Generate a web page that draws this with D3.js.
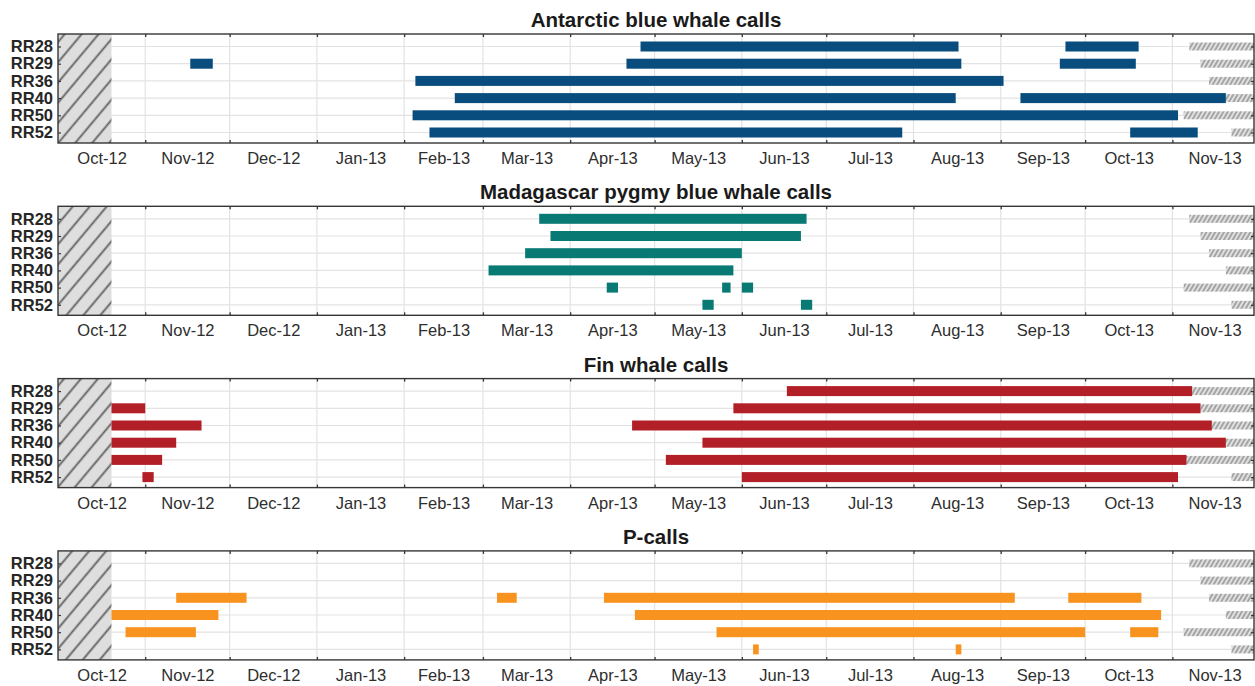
<!DOCTYPE html>
<html>
<head>
<meta charset="utf-8">
<script src="https://cdn.jsdelivr.net/npm/d3@7"></script>
<style>
body { margin: 0; background: #fff; }
svg { font-family: "Liberation Sans", Arial, sans-serif; }
</style>
</head>
<body>
<svg id="chart" width="1255" height="686"></svg>
<script>
var stations = ["RR28", "RR29", "RR36", "RR40", "RR50", "RR52"];
var panelTitles = ["Antarctic blue whale calls", "Madagascar pygmy blue whale calls", "Fin whale calls", "P-calls"];
var panelColors = ["#084d7e", "#087a73", "#b21f27", "#f7931e"];

// recording coverage: common start, end per station (hatched = no data)
var recStart = "2012-10-20";
var recEnd = ["2013-11-07", "2013-11-11", "2013-11-14", "2013-11-20", "2013-11-05", "2013-11-22"];

// detection periods [station, start, end]
var antarcticBlue = [
	["RR28", "2013-04-26", "2013-08-17"], ["RR28", "2013-09-24", "2013-10-20"],
	["RR29", "2012-11-17", "2012-11-25"], ["RR29", "2013-04-21", "2013-08-18"], ["RR29", "2013-09-22", "2013-10-19"],
	["RR36", "2013-02-05", "2013-09-02"],
	["RR40", "2013-02-19", "2013-08-16"], ["RR40", "2013-09-08", "2013-11-20"],
	["RR50", "2013-02-04", "2013-11-03"],
	["RR52", "2013-02-10", "2013-07-28"], ["RR52", "2013-10-17", "2013-11-10"]
];
var madagascarPygmy = [
	["RR28", "2013-03-21", "2013-06-24"],
	["RR29", "2013-03-25", "2013-06-22"],
	["RR36", "2013-03-16", "2013-06-01"],
	["RR40", "2013-03-03", "2013-05-29"],
	["RR50", "2013-04-14", "2013-04-18"], ["RR50", "2013-05-25", "2013-05-28"], ["RR50", "2013-06-01", "2013-06-05"],
	["RR52", "2013-05-18", "2013-05-22"], ["RR52", "2013-06-22", "2013-06-26"]
];
var finWhale = [
	["RR28", "2013-06-17", "2013-11-08"],
	["RR29", "2012-10-20", "2012-11-01"], ["RR29", "2013-05-29", "2013-11-11"],
	["RR36", "2012-10-20", "2012-11-21"], ["RR36", "2013-04-23", "2013-11-15"],
	["RR40", "2012-10-20", "2012-11-12"], ["RR40", "2013-05-18", "2013-11-20"],
	["RR50", "2012-10-20", "2012-11-07"], ["RR50", "2013-05-05", "2013-11-06"],
	["RR52", "2012-10-31", "2012-11-04"], ["RR52", "2013-06-01", "2013-11-03"]
];
var pCalls = [
	["RR36", "2012-11-12", "2012-12-07"], ["RR36", "2013-03-06", "2013-03-13"], ["RR36", "2013-04-13", "2013-09-06"], ["RR36", "2013-09-25", "2013-10-21"],
	["RR40", "2012-10-20", "2012-11-27"], ["RR40", "2013-04-24", "2013-10-28"],
	["RR50", "2012-10-25", "2012-11-19"], ["RR50", "2013-05-23", "2013-10-01"], ["RR50", "2013-10-17", "2013-10-27"],
	["RR52", "2013-06-05", "2013-06-07"], ["RR52", "2013-08-16", "2013-08-18"]
];
var panelData = [antarcticBlue, madagascarPygmy, finWhale, pCalls];

var parse = d3.timeParse("%Y-%m-%d");
var domainStart = parse("2012-10-01"),
	domainEnd = parse("2013-11-30");

var left = 58, right = 1254,
	panelH = 109, panelStep = 172.3, firstTop = 34;
var barH = 10, hatchH = 8;

var x = d3.scaleTime()
	.domain([domainStart, domainEnd])
	.range([left, right]);

var monthStarts = d3.timeMonth.range(domainStart, domainEnd);
var midMonths = monthStarts.map(function(m){
	var next = d3.timeMonth.offset(m, 1);
	return new Date((m.getTime() + next.getTime()) / 2);
});

var svg = d3.select('#chart');
var defs = svg.append('defs');

// wide hatch for the start of the record
var pBig = defs.append('pattern')
	.attr('id', 'hatchBig')
	.attr('patternUnits', 'userSpaceOnUse')
	.attr('width', 13).attr('height', 13)
	.attr('patternTransform', 'rotate(40)');
pBig.append('rect').attr('width', 13).attr('height', 13).attr('fill', '#dedede');
pBig.append('line').attr('x1', 6.5).attr('x2', 6.5).attr('y1', 0).attr('y2', 13)
	.attr('stroke', '#5e5e5e').attr('stroke-width', 1.8);

// fine hatch for the end of each record
var pFine = defs.append('pattern')
	.attr('id', 'hatchFine')
	.attr('patternUnits', 'userSpaceOnUse')
	.attr('width', 3.8).attr('height', 3.8)
	.attr('patternTransform', 'rotate(30)');
pFine.append('rect').attr('width', 3.8).attr('height', 3.8).attr('fill', '#e0e0e0');
pFine.append('line').attr('x1', 1.9).attr('x2', 1.9).attr('y1', 0).attr('y2', 3.8)
	.attr('stroke', '#6e6e6e').attr('stroke-width', 1);

panelData.forEach(function(data, p){
	var top = firstTop + p * panelStep;
	var y = d3.scalePoint()
		.domain(stations)
		.range([top + 12.5, top + 98.5]);

	var g = svg.append('g');

	g.append('rect')
		.attr('x', left).attr('y', top)
		.attr('width', right - left).attr('height', panelH)
		.attr('fill', '#fff');

	// vertical grid at month boundaries
	g.selectAll('.vgrid')
		.data(monthStarts.slice(1))
		.enter().append('line')
			.attr('x1', function(d){ return x(d) })
			.attr('x2', function(d){ return x(d) })
			.attr('y1', top).attr('y2', top + panelH)
			.attr('stroke', '#e3e3e3').attr('stroke-width', 1.2);

	// horizontal grid at stations
	g.selectAll('.hgrid')
		.data(stations)
		.enter().append('line')
			.attr('x1', left).attr('x2', right)
			.attr('y1', function(d){ return y(d) })
			.attr('y2', function(d){ return y(d) })
			.attr('stroke', '#e3e3e3').attr('stroke-width', 1.2);

	// no-data areas
	g.append('rect')
		.attr('x', x(domainStart)).attr('y', top)
		.attr('width', x(parse(recStart)) - x(domainStart))
		.attr('height', panelH)
		.attr('fill', 'url(#hatchBig)');

	g.selectAll('.endhatch')
		.data(stations)
		.enter().append('rect')
			.attr('x', function(d, i){ return x(parse(recEnd[i])) })
			.attr('y', function(d){ return y(d) - hatchH / 2 })
			.attr('width', function(d, i){ return x(domainEnd) - x(parse(recEnd[i])) })
			.attr('height', hatchH)
			.attr('fill', 'url(#hatchFine)');

	// detection bars
	g.selectAll('.bar')
		.data(data)
		.enter().append('rect')
			.attr('x', function(d){ return x(parse(d[1])) })
			.attr('y', function(d){ return y(d[0]) - barH / 2 })
			.attr('width', function(d){ return x(parse(d[2])) - x(parse(d[1])) })
			.attr('height', barH)
			.attr('fill', panelColors[p]);

	// frame
	g.append('rect')
		.attr('x', left).attr('y', top)
		.attr('width', right - left).attr('height', panelH)
		.attr('fill', 'none')
		.attr('stroke', '#363636').attr('stroke-width', 1.4);

	// inward ticks, top and bottom at month boundaries
	var topTicks = d3.axisTop(x).tickValues(monthStarts.slice(1)).tickSize(-3).tickFormat('');
	var tt = g.append('g').attr('transform', 'translate(0,' + top + ')').call(topTicks);
	var botTicks = d3.axisBottom(x).tickValues(monthStarts.slice(1)).tickSize(-3).tickFormat('');
	var bt = g.append('g').attr('transform', 'translate(0,' + (top + panelH) + ')').call(botTicks);
	[tt, bt].forEach(function(a){
		a.select('.domain').remove();
		a.selectAll('line').attr('stroke', '#363636').attr('stroke-width', 1.3);
	});

	// month labels centred in each month
	var xAxis = d3.axisBottom(x)
		.tickValues(midMonths)
		.tickSize(0)
		.tickPadding(0)
		.tickFormat(d3.timeFormat('%b-%y'));
	var xg = g.append('g').attr('transform', 'translate(0,' + (top + panelH) + ')').call(xAxis);
	xg.select('.domain').remove();
	xg.selectAll('text')
		.attr('dy', null)
		.attr('y', 21)
		.attr('font-size', 16.5)
		.attr('font-family', '"Liberation Sans", Arial, sans-serif')
		.attr('fill', '#2e2e2e');

	// station labels with inward ticks on both sides
	var yAxis = d3.axisLeft(y).tickSize(-3).tickPadding(5);
	var yg = g.append('g').attr('transform', 'translate(' + left + ',0)').call(yAxis);
	yg.select('.domain').remove();
	yg.selectAll('line').attr('stroke', '#363636').attr('stroke-width', 1.2);
	yg.selectAll('text')
		.attr('font-size', 16.5)
		.attr('font-weight', 'bold')
		.attr('font-family', '"Liberation Sans", Arial, sans-serif')
		.attr('fill', '#262626');

	var yRight = d3.axisRight(y).tickSize(-3).tickFormat('');
	var yr = g.append('g').attr('transform', 'translate(' + right + ',0)').call(yRight);
	yr.select('.domain').remove();
	yr.selectAll('line').attr('stroke', '#363636').attr('stroke-width', 1.2);

	g.append('text')
		.attr('x', (left + right) / 2)
		.attr('y', top - 7)
		.attr('text-anchor', 'middle')
		.attr('font-size', 20.5)
		.attr('font-weight', 'bold')
		.attr('fill', '#1a1a1a')
		.text(panelTitles[p]);
});
</script>
</body>
</html>
